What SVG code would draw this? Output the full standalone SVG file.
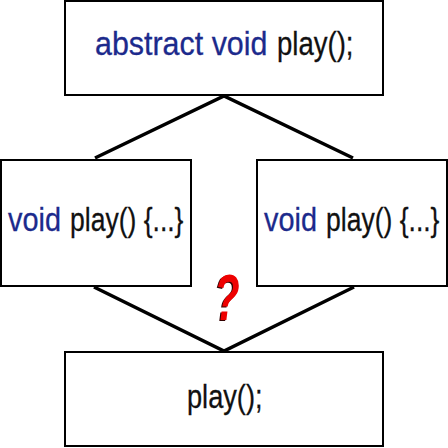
<svg xmlns="http://www.w3.org/2000/svg" width="448" height="448" viewBox="0 0 448 448">
<style>
.box{fill:#fff;stroke:#000;stroke-width:2}
.t{font-family:"Liberation Sans",Arial,sans-serif;font-size:34px;fill:#111;stroke:currentColor;stroke-width:0.3}
.kw{fill:#1c2a8c}
.ln{stroke:#000;stroke-width:3.5;fill:none}
.q{font-family:"Liberation Sans",Arial,sans-serif;font-size:64px;font-weight:bold;font-style:italic}
</style>
<rect width="448" height="448" fill="#fff"/>
<g id="connectors">
<polyline class="ln" points="95,158 224,96 353,158"/>
<polyline class="ln" points="94,287 224,351 354,287"/>
</g>
<g id="abstract">
<rect class="box" x="65" y="1" width="318" height="94"/>
<text class="t kw" color="#1c2a8c" transform="translate(95,55) scale(0.895,1)">abstract void</text>
<text class="t" color="#111" transform="translate(277,55) scale(0.81,1)">play();</text>
</g>
<g id="implA">
<rect class="box" x="1" y="160" width="190" height="126"/>
<text class="t kw" color="#1c2a8c" transform="translate(8,231) scale(0.85,1)">void</text>
<text class="t" color="#111" transform="translate(70,231) scale(0.78,1)">play() {...}</text>
</g>
<g id="implB">
<rect class="box" x="257" y="160" width="190" height="126"/>
<text class="t kw" color="#1c2a8c" transform="translate(264,231) scale(0.85,1)">void</text>
<text class="t" color="#111" transform="translate(326,231) scale(0.78,1)">play() {...}</text>
</g>
<g id="call">
<rect class="box" x="65" y="352" width="318" height="94"/>
<text class="t" color="#111" transform="translate(187,408) scale(0.8,1)">play();</text>
</g>
<g id="question" transform="translate(227,320) scale(0.65,1)">
<text class="q" x="-2" y="1" fill="#300" text-anchor="middle">?</text>
<text class="q" x="0" y="0" fill="#e00" text-anchor="middle">?</text>
</g>
</svg>
